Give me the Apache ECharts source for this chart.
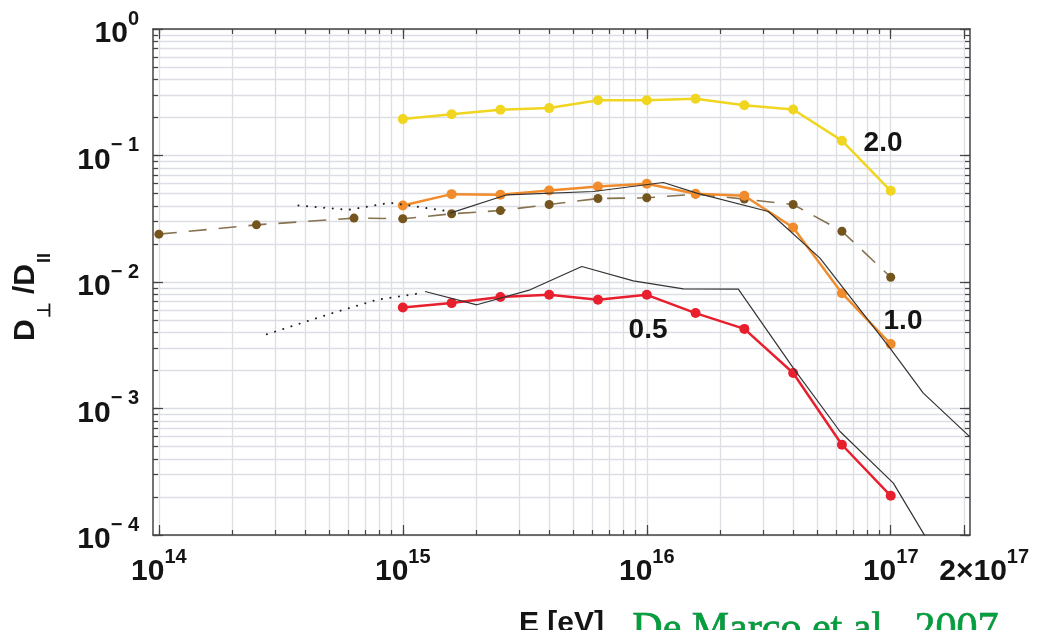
<!DOCTYPE html>
<html><head><meta charset="utf-8">
<script src="https://cdn.jsdelivr.net/npm/echarts@6/dist/echarts.min.js"></script>
<style>html,body{margin:0;padding:0;background:#fff}#c{width:1038px;height:630px}</style>
</head><body><div id="c"></div>
<script>
// ---- data ----
const energies = [1e15, 1.585e15, 2.512e15, 3.981e15, 6.31e15, 1e16, 1.585e16, 2.512e16, 3.981e16, 6.31e16, 1e17];
const ratio20 = [0.194, 0.212, 0.230, 0.237, 0.273, 0.273, 0.281, 0.250, 0.231, 0.131, 0.0526];
const ratio10 = [0.0402, 0.0495, 0.0489, 0.0529, 0.0569, 0.0598, 0.0498, 0.0480, 0.0270, 0.00816, 0.00323];
const ratio05 = [0.00629, 0.00681, 0.00760, 0.00792, 0.00723, 0.00792, 0.00568, 0.00426, 0.00191, 0.000517, 0.000204];
const brownE = [1e14, 2.512e14, 6.31e14, 1e15, 1.585e15, 2.512e15, 3.981e15, 6.31e15, 1e16, 1.585e16, 2.512e16, 3.981e16, 6.31e16, 1e17];
const brownR = [0.0239, 0.0283, 0.0320, 0.0316, 0.0346, 0.0367, 0.0410, 0.0457, 0.0463, 0.0495, 0.0452, 0.0410, 0.0252, 0.0109];
const blackHiE = [1.563e15, 2.669e15, 6.04e15, 1.169e16, 1.603e16, 3.151e16, 5.13e16, 9.93e16, 1.36e17, 2.113e17];
const blackHiR = [0.03505, 0.0489, 0.05192, 0.06116, 0.05044, 0.03608, 0.01545, 0.003002, 0.001323, 0.000597];
const blackLoE = [1.234e15, 2.011e15, 3.325e15, 5.415e15, 8.81e15, 1.413e16, 2.373e16, 3.99e16, 6.197e16, 1.025e17, 1.36e17, 1.592e17];
const blackLoR = [0.008411, 0.006604, 0.008676, 0.013261, 0.010221, 0.008836, 0.008787, 0.002087, 0.000658, 0.0002572, 0.0001035, 0.0000625];
const dotHiE = [3.734e14, 5.984e14, 8.87e14, 1.491e15];
const dotHiR = [0.04024, 0.03722, 0.04227, 0.03654];
const dotLoE = [2.771e14, 5.035e14, 7.82e14, 1.159e15];
const dotLoR = [0.00386, 0.005606, 0.007233, 0.00811];
const annoText = ['2.0', '1.0', '0.5'];
const annoE = [9.30e16, 1.123e17, 1.012e16];
const annoR = [0.126, 0.00493, 0.00419];

// ---- ticks ----
const xMajorTicks = [1e14, 1e15, 1e16, 1e17, 2e17];
const xMainLabels = [1e14, 1e15, 1e16, 1e17];
const xEdgeLabels = [2e17];
const yMajorTicks = [1e-4, 1e-3, 1e-2, 1e-1, 1];
const mantissas = [1, 2, 3, 4, 5, 6, 7, 8, 9];
const xDecades = [1e14, 1e15, 1e16];
const yDecades = [1e-4, 1e-3, 1e-2, 1e-1];
const xMinorTicks = [];
xDecades.forEach(d => mantissas.forEach(m => xMinorTicks.push(m * d)));
xMinorTicks.push(1e17, 2e17);
const yMinorTicks = [];
yDecades.forEach(d => mantissas.forEach(m => yMinorTicks.push(m * d)));
yMinorTicks.push(1);

const X_MIN = Math.pow(10, 13.976), X_MAX = Math.pow(10, 17.325);
const Y_MIN = 1e-4, Y_MAX = 1;

const zip = (a, b) => a.map((v, i) => [v, b[i]]);

const FONT = '"Liberation Sans", Arial, sans-serif';
const INK = '#141414';
const rich = {
  b: { fontFamily: FONT, fontWeight: 'bold', fontSize: 30, color: INK, lineHeight: 40, verticalAlign: 'bottom' },
  q: { fontFamily: FONT, fontWeight: 'bold', fontSize: 30, color: INK, lineHeight: 40, verticalAlign: 'bottom', padding: [0, 0, 0, 40] },
  s: { fontFamily: FONT, fontWeight: 'bold', fontSize: 20, color: INK, lineHeight: 25, verticalAlign: 'top' }
};
function expLabel(v) {
  const e = Math.round(Math.log10(v));
  const m = Math.round(v / Math.pow(10, e));
  const es = e < 0 ? '\u2212 ' + (-e) : String(e);
  if (m === 1) return '{b|10}{s|' + es + '}';
  return '{q|' + m + '\u00d710}{s|' + es + '}';
}

const GRID = { left: 153, top: 29, right: 68, bottom: 95, containLabel: false, outerBoundsMode: 'none' };
const boxLine = { show: true, onZero: false, lineStyle: { color: '#444', width: 1.5 } };
const gridColor = '#dcdee4';

function minorX(pos, grid, split) {
  return {
    type: 'log', gridIndex: grid, position: pos, min: X_MIN, max: X_MAX,
    axisLine: boxLine,
    axisTick: { show: true, inside: true, length: 5, customValues: xMinorTicks, lineStyle: { color: '#444', width: 1.2 } },
    axisLabel: { show: false },
    splitLine: { show: split, lineStyle: { color: gridColor, width: 1.3 } },
    minorTick: { show: false }, minorSplitLine: { show: false }
  };
}
function majorX(pos, grid, labels) {
  return {
    type: 'log', gridIndex: grid, position: pos, min: X_MIN, max: X_MAX,
    axisLine: { show: false },
    axisTick: { show: true, inside: true, length: 10, customValues: xMajorTicks, lineStyle: { color: '#444', width: 1.2 } },
    axisLabel: labels ? { show: true, customValues: xMainLabels, margin: 12, hideOverlap: false, formatter: expLabel, rich: rich } : { show: false },
    splitLine: { show: false },
    name: labels ? 'E [eV]' : '', nameLocation: 'middle', nameGap: 74,
    nameTextStyle: { fontFamily: FONT, fontWeight: 'bold', fontSize: 30, color: INK }
  };
}
function edgeX() {
  return {
    type: 'log', gridIndex: 2, position: 'bottom', min: X_MIN, max: X_MAX,
    axisLine: { show: false },
    axisTick: { show: false },
    axisLabel: { show: true, customValues: xEdgeLabels, margin: 12, hideOverlap: false, formatter: expLabel, rich: rich },
    splitLine: { show: false }
  };
}
function minorY(pos, grid, split) {
  return {
    type: 'log', gridIndex: grid, position: pos, min: Y_MIN, max: Y_MAX,
    axisLine: boxLine,
    axisTick: { show: true, inside: true, length: 5, customValues: yMinorTicks, lineStyle: { color: '#444', width: 1.2 } },
    axisLabel: { show: false },
    splitLine: { show: split, lineStyle: { color: gridColor, width: 1.3 } },
    minorTick: { show: false }, minorSplitLine: { show: false }
  };
}
function majorY(pos, grid, labels) {
  return {
    type: 'log', gridIndex: grid, position: pos, min: Y_MIN, max: Y_MAX,
    axisLine: { show: false },
    axisTick: { show: true, inside: true, length: 10, customValues: yMajorTicks, lineStyle: { color: '#444', width: 1.2 } },
    axisLabel: labels ? { show: true, customValues: yMajorTicks, margin: 14, hideOverlap: false, formatter: expLabel, rich: rich } : { show: false },
    splitLine: { show: false },
    name: labels ? '{d|D}{sub|\u22A5}{d| /D}{sub2|II}' : '', nameLocation: 'middle', nameGap: 110, nameRotate: 90,
    nameTextStyle: {
      rich: {
        d: { fontFamily: FONT, fontWeight: 'bold', fontSize: 30, color: INK, lineHeight: 32, verticalAlign: 'top' },
        sub: { fontFamily: FONT, fontWeight: 'bold', fontSize: 18, color: INK, lineHeight: 16, verticalAlign: 'top', padding: [25, 0, 0, 1] },
        sub2: { fontFamily: FONT, fontWeight: 'bold', fontSize: 18, color: INK, lineHeight: 16, verticalAlign: 'top', padding: [25, 30, 0, 1] }
      }
    }
  };
}

const colored = (name, data, color, size, width) => ({
  name, type: 'line', xAxisIndex: 0, yAxisIndex: 0, data, symbol: 'circle', symbolSize: size,
  itemStyle: { color }, lineStyle: { color, width }, z: 5, animation: false
});
const plain = (name, data, style, z) => ({
  name, type: 'line', xAxisIndex: 0, yAxisIndex: 0, data, symbol: 'none', lineStyle: style, z, animation: false
});

const option = {
  backgroundColor: '#fff',
  animation: false,
  grid: [GRID, Object.assign({}, GRID), Object.assign({}, GRID)],
  xAxis: [minorX('bottom', 0, true), minorX('top', 0, false), majorX('bottom', 1, true), majorX('top', 1, false), edgeX()],
  yAxis: [minorY('left', 0, true), minorY('right', 0, false), majorY('left', 1, true), majorY('right', 1, false),
    { type: 'log', gridIndex: 2, min: Y_MIN, max: Y_MAX, show: false }],
  series: [
    plain('brown dashed', zip(brownE, brownR), { color: '#86724f', width: 1.6, type: [18, 12] }, 3),
    {
      name: 'brown points', type: 'scatter', xAxisIndex: 0, yAxisIndex: 0, data: zip(brownE, brownR),
      symbol: 'circle', symbolSize: 9, itemStyle: { color: '#74551e', opacity: 1 }, z: 4, animation: false
    },
    colored('2.0', zip(energies, ratio20), '#f0d521', 10, 2.5),
    colored('1.0', zip(energies, ratio10), '#f18c2c', 10, 2.5),
    colored('0.5', zip(energies, ratio05), '#e8202e', 10, 2.5),
    plain('black 1.0', zip(blackHiE, blackHiR), { color: '#333', width: 1.2 }, 6),
    plain('black 0.5', zip(blackLoE, blackLoR), { color: '#333', width: 1.2 }, 6),
    plain('dotted 1.0', zip(dotHiE, dotHiR), { color: '#222', width: 2, type: [0.1, 8.5], cap: 'round' }, 6),
    plain('dotted 0.5', zip(dotLoE, dotLoR), { color: '#222', width: 2, type: [0.1, 8.5], cap: 'round' }, 6),
    {
      name: 'labels', type: 'scatter', xAxisIndex: 0, yAxisIndex: 0,
      data: annoText.map((t, i) => ({ name: t, value: [annoE[i], annoR[i]] })),
      symbolSize: 0, z: 7, animation: false,
      label: { show: true, position: 'inside', formatter: '{b}', fontFamily: FONT, fontWeight: 'bold', fontSize: 28, color: INK, opacity: 1, textBorderWidth: 0 },
      emphasis: { disabled: true }
    }
  ],
  graphic: [{
    type: 'text', left: 632, top: 609,
    style: { text: 'De Marco et al., 2007', fontFamily: '"Liberation Serif", "Times New Roman", serif', fontSize: 42, fill: '#00a03c', stroke: '#0a6b2e', lineWidth: 0.6 }
  }]
};

const chart = echarts.init(document.getElementById('c'), null, { renderer: 'canvas' });
chart.setOption(option);
</script>
</body></html>
